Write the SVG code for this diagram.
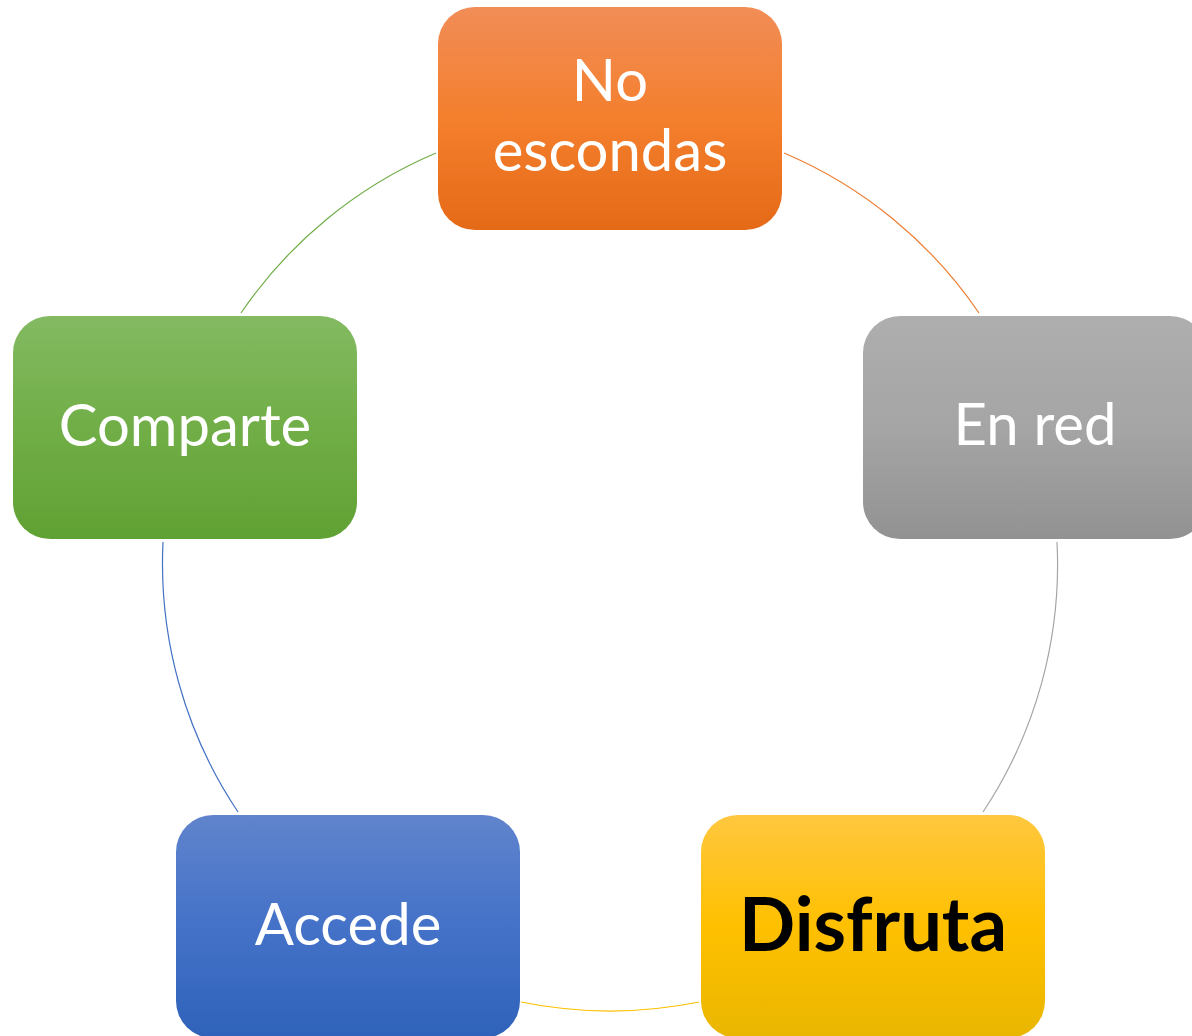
<svg xmlns="http://www.w3.org/2000/svg" width="1192" height="1036" viewBox="0 0 1192 1036">
<style>
.lbl{font-family:Lato,"Open Sans","Liberation Sans",sans-serif;font-size:58px;fill:#fff;text-anchor:middle}
.dark{fill:#000;font-weight:bold;font-size:74px}
.arc{fill:none;stroke-width:1.2}
</style>
<defs>
<linearGradient id="gO" x1="0" y1="0" x2="0" y2="1"><stop offset="0" stop-color="#F18D57"/><stop offset="0.5" stop-color="#F47F2D"/><stop offset="1" stop-color="#E56A17"/></linearGradient>
<linearGradient id="gG" x1="0" y1="0" x2="0" y2="1"><stop offset="0" stop-color="#AEAEAE"/><stop offset="0.5" stop-color="#A5A5A5"/><stop offset="1" stop-color="#929292"/></linearGradient>
<linearGradient id="gY" x1="0" y1="0" x2="0" y2="1"><stop offset="0" stop-color="#FFC73F"/><stop offset="0.5" stop-color="#FFC000"/><stop offset="1" stop-color="#E9B600"/></linearGradient>
<linearGradient id="gB" x1="0" y1="0" x2="0" y2="1"><stop offset="0" stop-color="#6084CC"/><stop offset="0.5" stop-color="#4472C8"/><stop offset="1" stop-color="#2F62BA"/></linearGradient>
<linearGradient id="gV" x1="0" y1="0" x2="0" y2="1"><stop offset="0" stop-color="#83BA62"/><stop offset="0.5" stop-color="#71AE47"/><stop offset="1" stop-color="#60A133"/></linearGradient>
</defs>
<g id="connectors">
<path class="arc" stroke="#ED7D31" d="M784 153 A447 447 0 0 1 979 313"/>
<path class="arc" stroke="#A5A5A5" d="M1057 542 A447 447 0 0 1 983 812"/>
<path class="arc" stroke="#FFC000" d="M699 1002 A447 447 0 0 1 521 1002"/>
<path class="arc" stroke="#4472C4" d="M238 812 A447 447 0 0 1 163 542"/>
<path class="arc" stroke="#70AD47" d="M241 313 A447 447 0 0 1 436 153"/>
</g>
<g id="node-no-escondas">
<rect x="438" y="7" width="344" height="223" rx="37" fill="url(#gO)"/>
<text class="lbl" x="610" y="101">No</text>
<text class="lbl" x="610" y="171">escondas</text>
</g>
<g id="node-en-red">
<rect x="863" y="316" width="344" height="223" rx="37" fill="url(#gG)"/>
<text class="lbl" x="1035" y="445">En red</text>
</g>
<g id="node-disfruta">
<rect x="701" y="815" width="344" height="223" rx="37" fill="url(#gY)"/>
<text class="lbl dark" x="873" y="951">Disfruta</text>
</g>
<g id="node-accede">
<rect x="176" y="815" width="344" height="223" rx="37" fill="url(#gB)"/>
<text class="lbl" x="348" y="945">Accede</text>
</g>
<g id="node-comparte">
<rect x="13" y="316" width="344" height="223" rx="37" fill="url(#gV)"/>
<text class="lbl" x="185" y="446">Comparte</text>
</g>
</svg>
